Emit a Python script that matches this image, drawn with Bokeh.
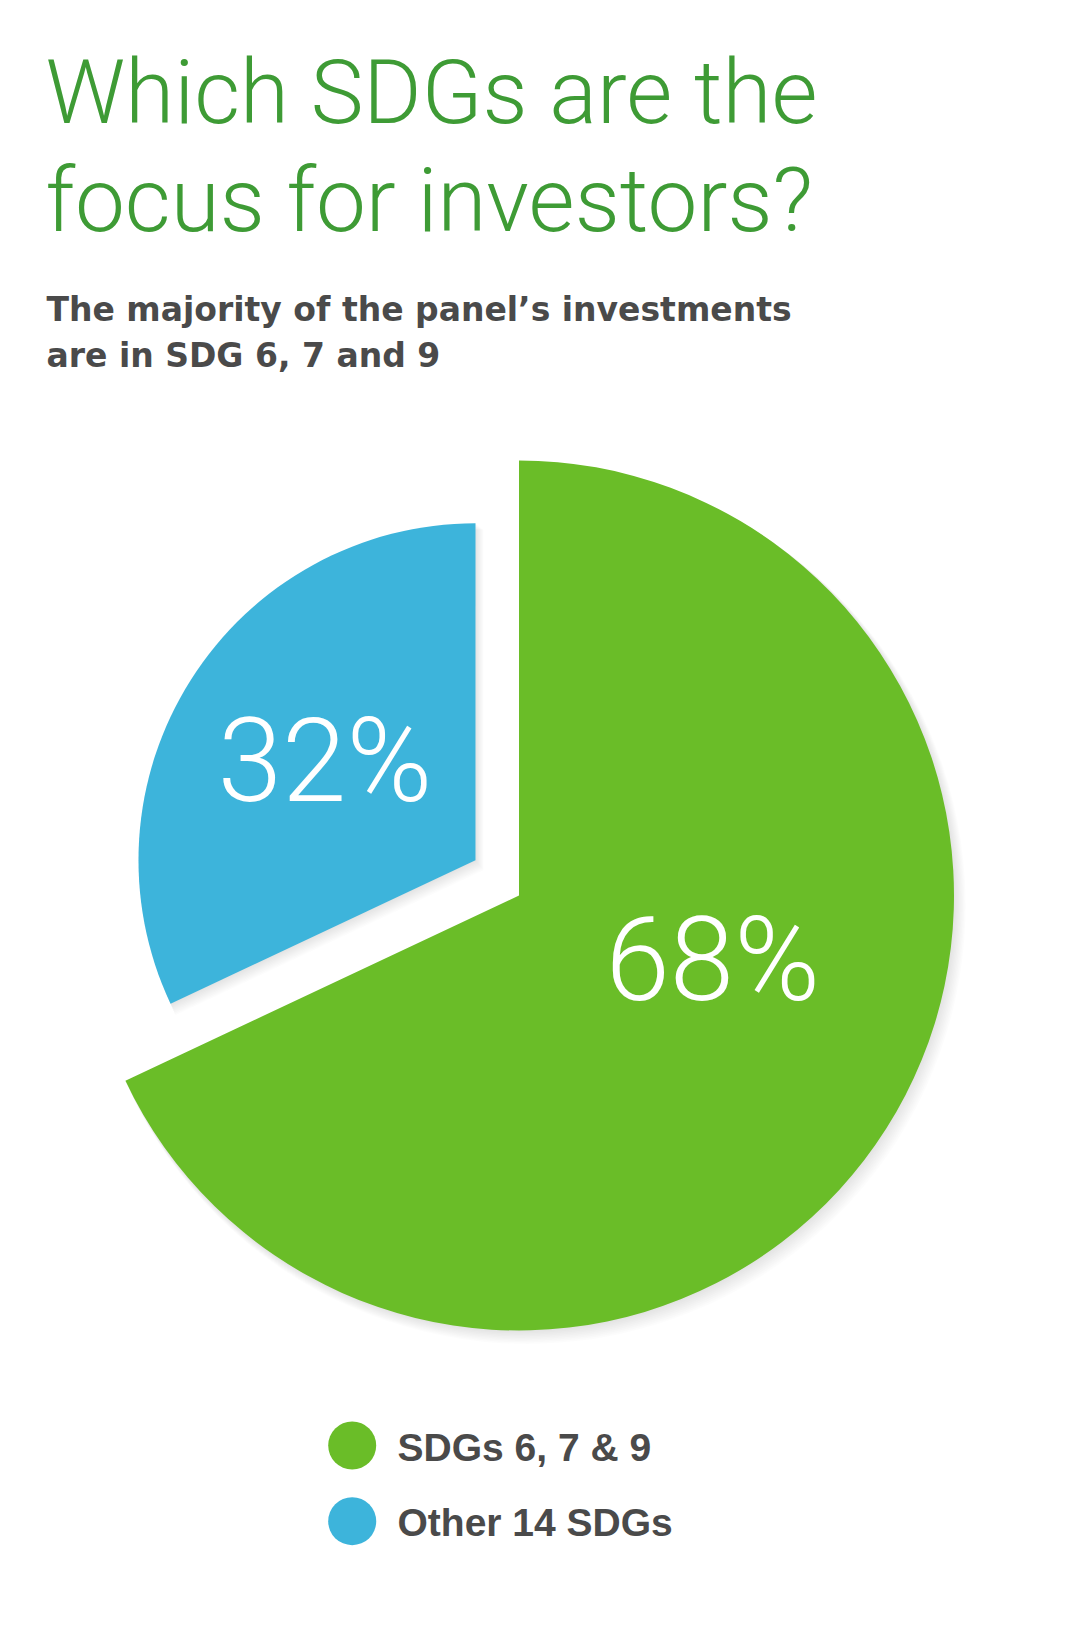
import math
from bokeh.plotting import figure
from bokeh.models import Range1d, Label
from bokeh.embed import file_html
from bokeh.resources import INLINE

# ---- data ----
categories = ["SDGs 6, 7 & 9", "Other 14 SDGs"]
values = [68, 32]
pct_labels = ["68%", "32%"]
colors = ["#6ABD28", "#3DB4DB"]

title_lines = ["Which SDGs are the", "focus for investors?"]
subtitle_lines = ["The majority of the panel\u2019s investments", "are in SDG 6, 7 and 9"]

# ---- layout / style ----
W, H = 1081, 1628


def Y(y_ref):
    return H - y_ref


BSHIFT = 0.34  # baseline correction (fraction of font size)


def base(y_ref, size):
    return Y(y_ref) + BSHIFT * size


p = figure(width=W, height=H, output_backend="svg", toolbar_location=None,
           x_range=Range1d(0, W), y_range=Range1d(0, H),
           min_border=0, outline_line_color=None, background_fill_color="white",
           border_fill_color="white")
p.axis.visible = False
p.grid.visible = False

center = (518.5, Y(895))
radii = [435, 337]
explode = [0, 56]
explode_angle = 141.0
label_dist = [220, 162]
label_angle = [-28.3, 158.3]

total = float(sum(values))
cum = 0.0
wedges = []
for i, v in enumerate(values):
    end = 90 - 360 * cum / total
    cum += v
    start = 90 - 360 * cum / total
    ea = math.radians(explode_angle)
    cx = center[0] + explode[i] * math.cos(ea)
    cy = center[1] + explode[i] * math.sin(ea)
    wedges.append((cx, cy, radii[i], start, end))

# soft drop shadow
for (cx, cy, r, s, e) in wedges:
    for k in range(1, 10):
        p.wedge(x=[cx + k * 0.9], y=[cy - k * 1.1], radius=r + k * 0.4,
                start_angle=math.radians(s), end_angle=math.radians(e),
                fill_color="black", fill_alpha=0.012, line_color=None)

for i, (cx, cy, r, s, e) in enumerate(wedges):
    p.wedge(x=[cx], y=[cy], radius=r,
            start_angle=math.radians(s), end_angle=math.radians(e),
            fill_color=colors[i], line_color=None)
    la = math.radians(label_angle[i])
    p.add_layout(Label(x=cx + label_dist[i] * math.cos(la),
                       y=cy + label_dist[i] * math.sin(la) + BSHIFT * 116,
                       text=pct_labels[i], text_font="Roboto Light", text_font_size="116px",
                       text_color="white", text_align="center", text_baseline="alphabetic"))

# title
for j, t in enumerate(title_lines):
    p.add_layout(Label(x=45, y=base(122 + 108 * j, 89), text=t, text_font="Roboto Light",
                       text_font_size="89px", text_color="#3E9B35",
                       text_baseline="alphabetic"))

# subtitle
for j, t in enumerate(subtitle_lines):
    p.add_layout(Label(x=46, y=base(320 + 46 * j, 33), text=t, text_font="DejaVu Sans",
                       text_font_style="bold", text_font_size="33px", text_color="#4A4A4A",
                       text_baseline="alphabetic"))

# legend
leg_x = 351.7
leg_y0 = 1445
leg_dy = 75.7
for i, c in enumerate(categories):
    yr = leg_y0 + leg_dy * i
    p.circle(x=[leg_x], y=[Y(yr)], radius=24, fill_color=colors[i], line_color=None)
    p.add_layout(Label(x=397, y=base(yr + 15, 39), text=c, text_font="Liberation Sans",
                       text_font_style="bold", text_font_size="39px", text_color="#4A4A4A",
                       text_baseline="alphabetic"))

open("out.html", "w").write(file_html(p, INLINE))
